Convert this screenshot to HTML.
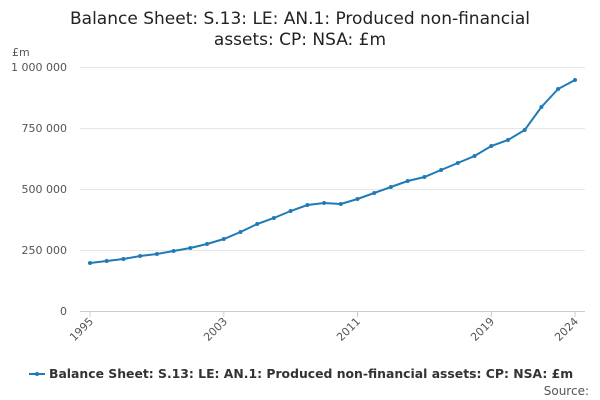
<!DOCTYPE html>
<html><head><meta charset="utf-8"><style>
html,body{margin:0;padding:0;background:#fff;}
svg{display:block;font-family:"DejaVu Sans","Liberation Sans",sans-serif;}
</style></head><body>
<svg width="600" height="400" viewBox="0 0 600 400">
<text x="300" y="24" text-anchor="middle" font-size="17" fill="#222">Balance Sheet: S.13: LE: AN.1: Produced non-financial</text>
<text x="300" y="45" text-anchor="middle" font-size="17" fill="#222">assets: CP: NSA: £m</text>
<text x="12" y="56" font-size="11" fill="#555">£m</text>
<g stroke="#e6e6e6" stroke-width="1">
<line x1="80" y1="67.5" x2="585" y2="67.5"/>
<line x1="80" y1="128.5" x2="585" y2="128.5"/>
<line x1="80" y1="189.5" x2="585" y2="189.5"/>
<line x1="80" y1="250.5" x2="585" y2="250.5"/>
</g>
<line x1="80" y1="311.5" x2="585" y2="311.5" stroke="#ccc"/>
<g font-size="11" fill="#555" text-anchor="end">
<text x="67" y="71">1 000 000</text>
<text x="67" y="132">750 000</text>
<text x="67" y="193">500 000</text>
<text x="67" y="254">250 000</text>
<text x="67" y="315">0</text>
</g>
<g stroke="#ccc"><line x1="90" y1="311" x2="90" y2="317"/><line x1="223.8" y1="311" x2="223.8" y2="317"/><line x1="357.5" y1="311" x2="357.5" y2="317"/><line x1="491.3" y1="311" x2="491.3" y2="317"/><line x1="575" y1="311" x2="575" y2="317"/></g>
<g font-size="11" fill="#555" text-anchor="end">
<text transform="translate(94,322) rotate(-45)">1995</text>
<text transform="translate(228,322) rotate(-45)">2003</text>
<text transform="translate(361,322) rotate(-45)">2011</text>
<text transform="translate(495,322) rotate(-45)">2019</text>
<text transform="translate(579,322) rotate(-45)">2024</text>
</g>
<polyline fill="none" stroke="#1f7ab8" stroke-width="2" points="90,263 106.7,261 123.4,259 140.2,256 156.9,254 173.6,251 190.3,248 207,244 223.8,239 240.5,232 257.2,224 273.9,218 290.6,211 307.4,205 324.1,203 340.8,204 357.5,199 374.2,193 390.9,187 407.7,181 424.4,177 441.1,170 457.8,163 474.5,156 491.3,146 508,140 524.7,130 541.4,107 558.1,89 575,80"/>
<g fill="#1f7ab8">
<circle cx="90" cy="263" r="2"/><circle cx="106.7" cy="261" r="2"/><circle cx="123.4" cy="259" r="2"/><circle cx="140.2" cy="256" r="2"/><circle cx="156.9" cy="254" r="2"/><circle cx="173.6" cy="251" r="2"/><circle cx="190.3" cy="248" r="2"/><circle cx="207" cy="244" r="2"/><circle cx="223.8" cy="239" r="2"/><circle cx="240.5" cy="232" r="2"/><circle cx="257.2" cy="224" r="2"/><circle cx="273.9" cy="218" r="2"/><circle cx="290.6" cy="211" r="2"/><circle cx="307.4" cy="205" r="2"/><circle cx="324.1" cy="203" r="2"/><circle cx="340.8" cy="204" r="2"/><circle cx="357.5" cy="199" r="2"/><circle cx="374.2" cy="193" r="2"/><circle cx="390.9" cy="187" r="2"/><circle cx="407.7" cy="181" r="2"/><circle cx="424.4" cy="177" r="2"/><circle cx="441.1" cy="170" r="2"/><circle cx="457.8" cy="163" r="2"/><circle cx="474.5" cy="156" r="2"/><circle cx="491.3" cy="146" r="2"/><circle cx="508" cy="140" r="2"/><circle cx="524.7" cy="130" r="2"/><circle cx="541.4" cy="107" r="2"/><circle cx="558.1" cy="89" r="2"/><circle cx="575" cy="80" r="2"/>
</g>
<line x1="29" y1="374" x2="45" y2="374" stroke="#1f7ab8" stroke-width="2"/>
<circle cx="37" cy="374" r="2" fill="#1f7ab8"/>
<text x="49" y="378" font-size="12.4" font-weight="bold" fill="#333">Balance Sheet: S.13: LE: AN.1: Produced non-financial assets: CP: NSA: £m</text>
<text x="589" y="395" text-anchor="end" font-size="12" fill="#555">Source:</text>
</svg>
</body></html>
